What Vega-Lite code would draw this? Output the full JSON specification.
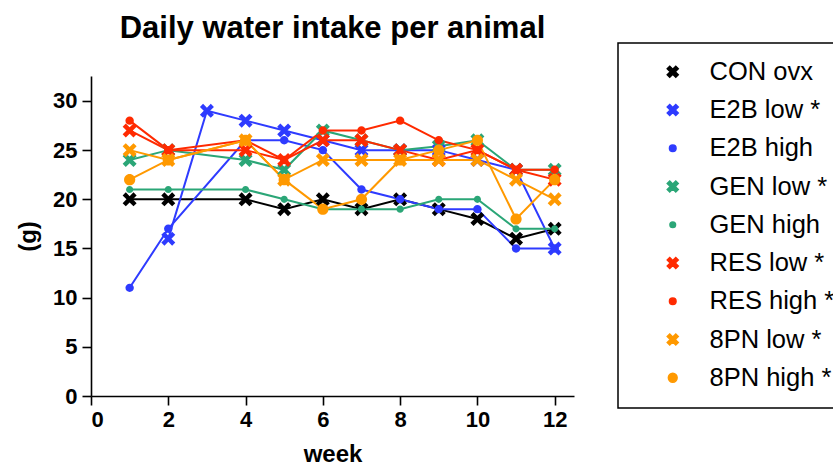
{
  "$schema": "https://vega.github.io/schema/vega-lite/v6.json",
  "autosize": "none",
  "width": 483,
  "height": 320,
  "padding": {"left": 91, "top": 76, "right": 259, "bottom": 71},
  "background": "white",
  "title": {
    "text": "Daily water intake per animal",
    "font": "Liberation Sans",
    "fontSize": 31,
    "fontWeight": "bold",
    "color": "black",
    "anchor": "middle",
    "offset": -3
  },
  "config": {
    "view": {"stroke": null},
    "axis": {
      "grid": false,
      "domainColor": "black",
      "domainWidth": 1.6,
      "tickColor": "black",
      "tickWidth": 1.6,
      "tickSize": 9,
      "labelFont": "Liberation Sans",
      "labelFontSize": 22,
      "labelFontWeight": "bold",
      "labelColor": "black",
      "titleFont": "Liberation Sans",
      "titleFontSize": 24,
      "titleFontWeight": "bold",
      "titleColor": "black"
    }
  },
  "data": {
    "values": [
      {"group": "CON ovx", "week": 1, "g": 20},
      {"group": "CON ovx", "week": 2, "g": 20},
      {"group": "CON ovx", "week": 4, "g": 20},
      {"group": "CON ovx", "week": 5, "g": 19},
      {"group": "CON ovx", "week": 6, "g": 20},
      {"group": "CON ovx", "week": 7, "g": 19},
      {"group": "CON ovx", "week": 8, "g": 20},
      {"group": "CON ovx", "week": 9, "g": 19},
      {"group": "CON ovx", "week": 10, "g": 18},
      {"group": "CON ovx", "week": 11, "g": 16},
      {"group": "CON ovx", "week": 12, "g": 17},
      {"group": "E2B low *", "week": 2, "g": 16},
      {"group": "E2B low *", "week": 3, "g": 29},
      {"group": "E2B low *", "week": 4, "g": 28},
      {"group": "E2B low *", "week": 5, "g": 27},
      {"group": "E2B low *", "week": 6, "g": 26},
      {"group": "E2B low *", "week": 7, "g": 25},
      {"group": "E2B low *", "week": 8, "g": 25},
      {"group": "E2B low *", "week": 9, "g": 25},
      {"group": "E2B low *", "week": 10, "g": 24},
      {"group": "E2B low *", "week": 11, "g": 23},
      {"group": "E2B low *", "week": 12, "g": 15},
      {"group": "E2B high", "week": 1, "g": 11},
      {"group": "E2B high", "week": 2, "g": 17},
      {"group": "E2B high", "week": 4, "g": 26},
      {"group": "E2B high", "week": 5, "g": 26},
      {"group": "E2B high", "week": 6, "g": 25},
      {"group": "E2B high", "week": 7, "g": 21},
      {"group": "E2B high", "week": 8, "g": 20},
      {"group": "E2B high", "week": 9, "g": 19},
      {"group": "E2B high", "week": 10, "g": 19},
      {"group": "E2B high", "week": 11, "g": 15},
      {"group": "E2B high", "week": 12, "g": 15},
      {"group": "GEN low *", "week": 1, "g": 24},
      {"group": "GEN low *", "week": 2, "g": 25},
      {"group": "GEN low *", "week": 4, "g": 24},
      {"group": "GEN low *", "week": 5, "g": 23},
      {"group": "GEN low *", "week": 6, "g": 27},
      {"group": "GEN low *", "week": 7, "g": 26},
      {"group": "GEN low *", "week": 8, "g": 25},
      {"group": "GEN low *", "week": 9, "g": 25.4},
      {"group": "GEN low *", "week": 10, "g": 26},
      {"group": "GEN low *", "week": 11, "g": 23},
      {"group": "GEN low *", "week": 12, "g": 23},
      {"group": "GEN high", "week": 1, "g": 21},
      {"group": "GEN high", "week": 2, "g": 21},
      {"group": "GEN high", "week": 4, "g": 21},
      {"group": "GEN high", "week": 5, "g": 20},
      {"group": "GEN high", "week": 6, "g": 19},
      {"group": "GEN high", "week": 7, "g": 19},
      {"group": "GEN high", "week": 8, "g": 19},
      {"group": "GEN high", "week": 9, "g": 20},
      {"group": "GEN high", "week": 10, "g": 20},
      {"group": "GEN high", "week": 11, "g": 17},
      {"group": "GEN high", "week": 12, "g": 17},
      {"group": "RES low *", "week": 1, "g": 27},
      {"group": "RES low *", "week": 2, "g": 25},
      {"group": "RES low *", "week": 4, "g": 25},
      {"group": "RES low *", "week": 5, "g": 24},
      {"group": "RES low *", "week": 6, "g": 26},
      {"group": "RES low *", "week": 7, "g": 26},
      {"group": "RES low *", "week": 8, "g": 25},
      {"group": "RES low *", "week": 9, "g": 24},
      {"group": "RES low *", "week": 10, "g": 25},
      {"group": "RES low *", "week": 11, "g": 23},
      {"group": "RES low *", "week": 12, "g": 22},
      {"group": "RES high *", "week": 1, "g": 28},
      {"group": "RES high *", "week": 2, "g": 25},
      {"group": "RES high *", "week": 4, "g": 26},
      {"group": "RES high *", "week": 5, "g": 24},
      {"group": "RES high *", "week": 6, "g": 27},
      {"group": "RES high *", "week": 7, "g": 27},
      {"group": "RES high *", "week": 8, "g": 28},
      {"group": "RES high *", "week": 9, "g": 26},
      {"group": "RES high *", "week": 10, "g": 25},
      {"group": "RES high *", "week": 11, "g": 23},
      {"group": "RES high *", "week": 12, "g": 23},
      {"group": "8PN low *", "week": 1, "g": 25},
      {"group": "8PN low *", "week": 2, "g": 24},
      {"group": "8PN low *", "week": 4, "g": 26},
      {"group": "8PN low *", "week": 5, "g": 22},
      {"group": "8PN low *", "week": 6, "g": 24},
      {"group": "8PN low *", "week": 7, "g": 24},
      {"group": "8PN low *", "week": 8, "g": 24},
      {"group": "8PN low *", "week": 9, "g": 24},
      {"group": "8PN low *", "week": 10, "g": 24},
      {"group": "8PN low *", "week": 11, "g": 22},
      {"group": "8PN low *", "week": 12, "g": 20},
      {"group": "8PN high *", "week": 1, "g": 22},
      {"group": "8PN high *", "week": 2, "g": 24},
      {"group": "8PN high *", "week": 4, "g": 26},
      {"group": "8PN high *", "week": 5, "g": 22},
      {"group": "8PN high *", "week": 6, "g": 19},
      {"group": "8PN high *", "week": 7, "g": 20},
      {"group": "8PN high *", "week": 8, "g": 24},
      {"group": "8PN high *", "week": 9, "g": 25},
      {"group": "8PN high *", "week": 10, "g": 26},
      {"group": "8PN high *", "week": 11, "g": 18},
      {"group": "8PN high *", "week": 12, "g": 22}
    ]
  },
  "encoding": {
    "x": {
      "field": "week", "type": "quantitative",
      "scale": {"domain": [0, 12.5], "nice": false, "zero": false},
      "axis": {"values": [0, 2, 4, 6, 8, 10, 12], "title": "week", "labelPadding": 4, "titlePadding": 12}
    },
    "y": {
      "field": "g", "type": "quantitative",
      "scale": {"domain": [0, 32.54], "nice": false},
      "axis": {"values": [0, 5, 10, 15, 20, 25, 30], "title": "(g)", "labelPadding": 5, "titlePadding": 12}
    }
  },
  "layer": [
    {
      "mark": {"type": "line", "strokeWidth": 2},
      "encoding": {
        "color": {
          "field": "group", "type": "nominal",
          "scale": {
            "domain": ["CON ovx", "E2B low *", "E2B high", "GEN low *", "GEN high", "RES low *", "RES high *", "8PN low *", "8PN high *"],
            "range": ["#000000", "#2E3BFF", "#2E3BFF", "#2BA677", "#2BA677", "#FF2A00", "#FF2A00", "#FF9900", "#FF9900"]
          },
          "legend": {
            "title": null,
            "orient": "none",
            "legendX": 527,
            "legendY": -33,
            "strokeColor": "black",
            "padding": 16,
            "symbolSize": 121,
            "symbolStrokeWidth": 1.5,
            "labelFont": "Liberation Sans",
            "labelFontSize": 25.5,
            "labelColor": "black",
            "labelLimit": 300,
            "rowPadding": 11.25,
            "symbolOffset": 26,
            "labelOffset": 24,
            "encode": {
              "legend": {"update": {"strokeWidth": {"value": 1.5}}},
              "symbols": {
                "update": {
                  "fill": {"value": {"expr": "scale('color', datum.value)"}},
                  "stroke": {"value": {"expr": "scale('color', datum.value)"}},
                  "strokeWidth": {"value": 1.5},
                  "opacity": {"value": 1},
                  "fillOpacity": {"value": 1}
                }
              }
            }
          }
        }
      }
    },
    {
      "mark": {"type": "point", "filled": true, "opacity": 1, "size": 196},
      "encoding": {
        "fill": {
          "field": "group", "type": "nominal", "legend": null,
          "scale": {
            "domain": ["CON ovx", "E2B low *", "E2B high", "GEN low *", "GEN high", "RES low *", "RES high *", "8PN low *", "8PN high *"],
            "range": ["#000000", "#2E3BFF", "#2E3BFF", "#2BA677", "#2BA677", "#FF2A00", "#FF2A00", "#FF9900", "#FF9900"]
          }
        },
        "shape": {
          "field": "group", "type": "nominal", "legend": null,
          "scale": {
            "domain": ["CON ovx", "E2B low *", "E2B high", "GEN low *", "GEN high", "RES low *", "RES high *", "8PN low *", "8PN high *"],
            "range": [
              "M-0.55,-1L0,-0.45L0.55,-1L1,-0.55L0.45,0L1,0.55L0.55,1L0,0.45L-0.55,1L-1,0.55L-0.45,0L-1,-0.55Z",
              "M-0.55,-1L0,-0.45L0.55,-1L1,-0.55L0.45,0L1,0.55L0.55,1L0,0.45L-0.55,1L-1,0.55L-0.45,0L-1,-0.55Z",
              "M0.6,0A0.6,0.6,0,1,1,-0.6,0A0.6,0.6,0,1,1,0.6,0Z",
              "M-0.55,-1L0,-0.45L0.55,-1L1,-0.55L0.45,0L1,0.55L0.55,1L0,0.45L-0.55,1L-1,0.55L-0.45,0L-1,-0.55Z",
              "M0.51,0A0.51,0.51,0,1,1,-0.51,0A0.51,0.51,0,1,1,0.51,0Z",
              "M-0.55,-1L0,-0.45L0.55,-1L1,-0.55L0.45,0L1,0.55L0.55,1L0,0.45L-0.55,1L-1,0.55L-0.45,0L-1,-0.55Z",
              "M0.6,0A0.6,0.6,0,1,1,-0.6,0A0.6,0.6,0,1,1,0.6,0Z",
              "M-0.55,-1L0,-0.45L0.55,-1L1,-0.55L0.45,0L1,0.55L0.55,1L0,0.45L-0.55,1L-1,0.55L-0.45,0L-1,-0.55Z",
              "M0.8,0A0.8,0.8,0,1,1,-0.8,0A0.8,0.8,0,1,1,0.8,0Z"
            ]
          }
        }
      }
    }
  ]
}
